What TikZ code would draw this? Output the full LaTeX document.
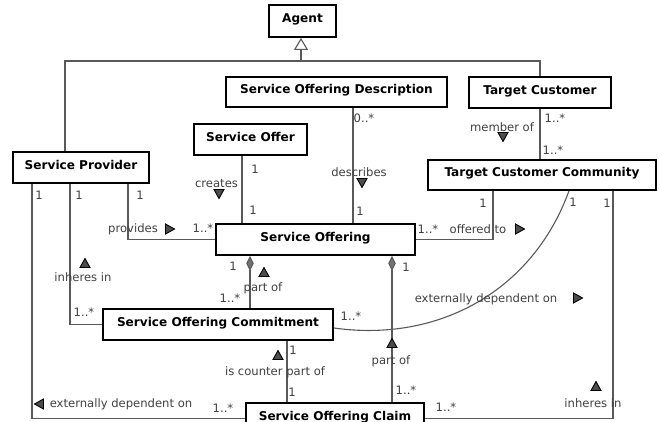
\documentclass[tikz,border=0pt]{standalone}
\usepackage{fontspec}
\setmainfont{DejaVu Sans}
\usetikzlibrary{arrows.meta}

\begin{document}
\begin{tikzpicture}[x=1pt,y=-1pt,
  cls/.style={draw=black,line width=1.8pt,fill=white,inner sep=0pt,
    font=\fontsize{12.1}{14}\selectfont\bfseries,text height=9.4pt,text depth=5.8pt},
  assoc/.style={draw=black!65,line width=1.1pt},
  mult/.style={text=black!75,inner sep=0pt,font=\fontsize{11.6}{13}\selectfont},
  dirtri/.style={fill=black!70,draw=black,line width=0.9pt,line join=miter},
  comp/.style={assoc,{Diamond[length=15pt,width=7.5pt,fill=black!55]}-}]
  \useasboundingbox[fill=white] (0,0) rectangle (659,422);
  \clip (0,0) rectangle (659,422);
  % classes
  \node[cls,minimum width=67pt,minimum height=32pt] (agent) at (302.5,21) {Agent};
  \node[cls,minimum width=221pt,minimum height=30pt] (sod) at (336.5,92) {Service Offering Description};
  \node[cls,minimum width=142pt,minimum height=31pt] (tc) at (540,92.5) {Target Customer};
  \node[cls,minimum width=113pt,minimum height=31pt] (offer) at (250.5,139.5) {Service Offer};
  \node[cls,minimum width=136pt,minimum height=31pt] (sp) at (81,167.5) {Service Provider};
  \node[cls,minimum width=228pt,minimum height=30pt] (tcc) at (542,175) {Target Customer Community};
  \node[cls,minimum width=199pt,minimum height=31pt] (so) at (315.5,239.5) {Service Offering};
  \node[cls,minimum width=230pt,minimum height=31pt] (soc) at (218,324.5) {Service Offering Commitment};
  \node[cls,minimum width=178pt,minimum height=31pt] (socl) at (335,418.5) {Service Offering Claim};
  % generalisation
  \coordinate (gen) at (301,61);
  \draw[assoc] (sp.north -| 65,0) |- (gen) -| (tc.north);
  \draw[assoc,-{Triangle[open,length=12pt,width=14pt]}] (gen) -- (agent.south -| gen);
  % associations
  \draw[assoc] (offer.south -| 242,0) -- (so.north -| 242,0);
  \draw[assoc] (sod.south -| 353,0) -- (so.north -| 353,0);
  \draw[assoc] (tc.south) -- (tcc.north -| tc.south);
  \draw[assoc] (sp.south -| 128,0) |- (so.west);
  \draw[assoc] (so.east) -| (tcc.south -| 493,0);
  \draw[assoc] (sp.south -| 70,0) |- (soc.west);
  \draw[assoc] (sp.south -| 32,0) |- (socl.west);
  \draw[assoc] (soc.south -| 287,0) -- (socl.north -| 287,0);
  \draw[assoc] (tcc.south -| 613,0) |- (socl.east);
  \draw[assoc] (tcc.south -| 569,0) to[out=-110,in=-8] (soc.east |- 0,328);
  % compositions
  \draw[comp] (so.south -| 250,0) -- (soc.north -| 250,0);
  \draw[comp] (so.south -| 392,0) -- (socl.north -| 392,0);
  % reading direction
  \foreach \x/\y/\a in {219/194/-90,362/183/-90,503/137/-90,170/229/0,520/229/0,578/298/0,
      85/263/90,264/272/90,278/355/90,392/343/90,596/386/90,39/404/180}
    \filldraw[dirtri,shift={(\x,\y)},rotate=\a] (4.5,0) -- (-4.5,-5) -- (-4.5,5) -- cycle;
  % multiplicities
  \foreach \x/\y/\t [count=\i] in {255/169/1,253/210/1,364/118/0..*,360/211/1,555/118/1..*,
      553/150/1..*,39/195/1,79/195/1,140/195/1,203/228/1..*,428/229/1..*,483/203/1,
      573/202/1,607/203/1,233/266/1,230/298/1..*,406/267/1,351/316/1..*,84/312/1..*,
      293/350/1,292/392/1,406/390/1..*,223/408/1..*,446/407/1..*}
    \node[mult] (m\i) at (\x,\y) {\t};
  % roles
  \node[mult] (creates) at (216.5,184) {creates};
  \node[mult] (describes) at (359,172) {describes};
  \node[mult] (member) at (502,127) {member of};
  \node[mult] (provides) at (133,229) {provides};
  \node[mult] (offered) at (478,229) {offered to};
  \node[mult] (inh1) at (83,277) {inheres in};
  \node[mult] (part1) at (263,288) {part of};
  \node[mult] (ext1) at (486,299) {externally dependent on};
  \node[mult] (counter) at (275,372) {is counter part of};
  \node[mult] (part2) at (391,361) {part of};
  \node[mult] (ext2) at (121,404) {externally dependent on};
  \node[mult] (inh2) at (593,403) {inheres in};
\end{tikzpicture}
\end{document}
